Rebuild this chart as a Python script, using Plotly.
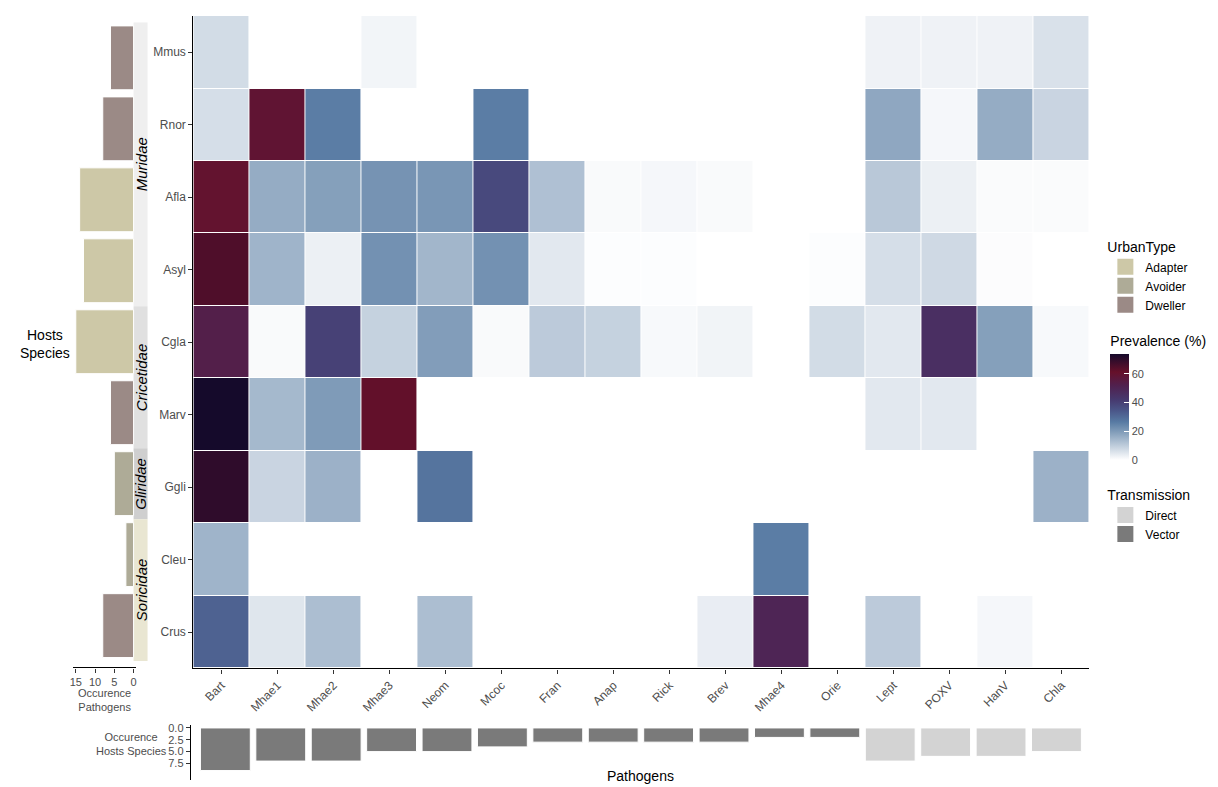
import plotly.graph_objects as go


HOSTS = ["Mmus", "Rnor", "Afla", "Asyl", "Cgla", "Marv", "Ggli", "Cleu", "Crus"]

PATHOGENS = [
    "Bart", "Mhae1", "Mhae2", "Mhae3", "Neom", "Mcoc", "Fran", "Anap",
    "Rick", "Brev", "Mhae4", "Orie", "Lept", "POXV", "HanV", "Chla"
]

# prevalence (%) per host, in PATHOGENS order, None = not found
MMUS = [7, None, None, 2, None, None, None, None, None, None, None, None, 2.5, 2.5, 2.5, 6]
RNOR = [6.5, 59, 26, None, None, 26, None, None, None, None, None, None, 17.5, 1.5, 16.5, 8.5]
AFLA = [60, 16.5, 19, 21.5, 21, 38, 12.5, 1, 1.5, 1, None, None, 11, 3, 0.8, 0.8]
ASYL = [65, 15, 3, 22, 14.5, 22, 4.5, 0.4, 0.4, None, None, 0.4, 6.5, 7.5, 0.5, None]
CGLA = [53, 1, 40, 9, 19.5, 1, 10.5, 9, 1.2, 2.2, None, 7, 4.5, 46, 19, 1.2]
MARV = [74, 14, 20, 62, None, None, None, None, None, None, None, None, 4.5, 4.5, None, None]
GGLI = [70, 8.5, 15.5, None, 28, None, None, None, None, None, None, None, None, None, None, 15.5]
CLEU = [15, None, None, None, None, None, None, None, None, None, 26, None, None, None, None, None]
CRUS = [32, 5, 13, None, 13, None, None, None, None, 3.5, 50, None, 10.5, None, 1.5, None]

# number of pathogens found per host
HOST_OCCURENCE = [6, 8, 14, 13, 15, 6, 5, 2, 8]
URBAN_TYPE = ["Dweller", "Dweller", "Adapter", "Adapter", "Adapter",
              "Dweller", "Avoider", "Avoider", "Dweller"]
FAMILY = ["Muridae", "Muridae", "Muridae", "Muridae", "Cricetidae",
          "Cricetidae", "Gliridae", "Soricidae", "Soricidae"]

# number of host species per pathogen
PATHOGEN_OCCURENCE = [9, 7, 7, 5, 5, 4, 3, 3, 3, 3, 2, 2, 7, 6, 6, 5]
TRANSMISSION = ["Vector"] * 12 + ["Direct"] * 4

URBAN_COLORS = {"Adapter": "#CDC8A7", "Avoider": "#AEAB97", "Dweller": "#9B8A86"}
TRANS_COLORS = {"Direct": "#D3D3D3", "Vector": "#7A7A7A"}
FAMILY_COLORS = {"Muridae": "#EFEFEF", "Cricetidae": "#E0E0E0",
                 "Gliridae": "#CFCFCF", "Soricidae": "#E9E6D2"}

PREV_SCALE = [
    [0.00, "#FFFFFF"],
    [0.27, "#7F9BB8"],
    [0.36, "#577AA3"],
    [0.47, "#4A5588"],
    [0.57, "#46396E"],
    [0.70, "#50214F"],
    [0.83, "#66102A"],
    [1.00, "#150A2B"],
]

# the page body has an 8px margin, so the figure is drawn 8px in
OFF = 8
W, H = 1218 - OFF, 787 - OFF
FONT = "Liberation Sans, Arial, sans-serif"
GREY = "#4D4D4D"


def fx(p):
    return (p - OFF) / W


def fy(p):
    return 1 - (p - OFF) / H


fig = go.Figure()

fig.add_trace(
    go.Heatmap(
        z=[MMUS, RNOR, AFLA, ASYL, CGLA, MARV, GGLI, CLEU, CRUS],
        x=PATHOGENS,
        y=HOSTS,
        zmin=0,
        zmax=74,
        colorscale=PREV_SCALE,
        xgap=1,
        ygap=1,
        hoverongaps=False,
        colorbar=dict(
            title=dict(text="Prevalence (%)", side="top",
                       font=dict(size=14, color="black")),
            x=fx(1111), xanchor="left", xpad=0,
            y=fy(331), yanchor="top", ypad=0,
            len=127 / H, lenmode="fraction",
            thickness=19, outlinewidth=0,
            tickvals=[0, 20, 40, 60],
            ticks="inside", ticklen=5, tickcolor="white",
            tickfont=dict(size=11, color=GREY),
        ),
        xaxis="x",
        yaxis="y",
    )
)

# host occurence bars (left)
fig.add_trace(
    go.Bar(
        x=HOST_OCCURENCE,
        y=HOSTS,
        orientation="h",
        width=0.9,
        marker=dict(color=[URBAN_COLORS[u] for u in URBAN_TYPE],
                    line=dict(color="white", width=1)),
        showlegend=False,
        xaxis="x2",
        yaxis="y2",
    )
)

# pathogen occurence bars (bottom)
fig.add_trace(
    go.Bar(
        x=PATHOGENS,
        y=PATHOGEN_OCCURENCE,
        width=0.9,
        marker=dict(color=[TRANS_COLORS[t] for t in TRANSMISSION],
                    line=dict(color="white", width=1)),
        showlegend=False,
        xaxis="x3",
        yaxis="y3",
    )
)

for name, color in URBAN_COLORS.items():
    fig.add_trace(
        go.Scatter(
            x=[None], y=[None], mode="markers", name=name,
            marker=dict(symbol="square", size=16, color=color),
            legend="legend",
        )
    )

for name, color in TRANS_COLORS.items():
    fig.add_trace(
        go.Scatter(
            x=[None], y=[None], mode="markers", name=name,
            marker=dict(symbol="square", size=16, color=color),
            legend="legend2",
        )
    )

# family strips next to the host bars
shapes = []
annotations = []
start = 0
for i in range(1, len(FAMILY) + 1):
    if i == len(FAMILY) or FAMILY[i] != FAMILY[start]:
        fam = FAMILY[start]
        shapes.append(dict(
            type="rect", xref="paper", yref="y2",
            x0=fx(131), x1=fx(145), y0=start - 0.5, y1=i - 0.5,
            fillcolor=FAMILY_COLORS[fam], line=dict(width=0), layer="below",
        ))
        annotations.append(dict(
            text=f"<i>{fam}</i>", xref="paper", yref="y2",
            x=fx(138.5), y=(start + i - 1) / 2, textangle=-90,
            xanchor="center", yanchor="middle",
            showarrow=False, font=dict(size=15, color="black"),
        ))
        start = i

annotations += [
    dict(text="Hosts<br>Species", xref="paper", yref="paper",
         x=fx(42), y=fy(342), xanchor="center", yanchor="middle",
         showarrow=False, font=dict(size=14, color="black")),
    dict(text="Occurence<br>Pathogens", xref="paper", yref="paper",
         x=fx(102), y=fy(700), xanchor="center", yanchor="middle",
         showarrow=False, font=dict(size=11, color=GREY)),
    dict(text="Occurence<br>Hosts Species", xref="paper", yref="paper",
         x=fx(129), y=fy(744), xanchor="center", yanchor="middle",
         showarrow=False, font=dict(size=11, color=GREY)),
    dict(text="Pathogens", xref="paper", yref="paper",
         x=fx(640), y=fy(776), xanchor="center", yanchor="middle",
         showarrow=False, font=dict(size=14, color="black")),
]

axis_common = dict(
    showgrid=False, zeroline=False, showline=True,
    linecolor="black", linewidth=1.3,
    ticks="outside", ticklen=4, tickcolor="#333333",
    tickfont=dict(size=12, color=GREY),
)

fig.update_layout(
    width=W,
    height=H,
    margin=dict(l=0, r=0, t=0, b=0),
    paper_bgcolor="white",
    plot_bgcolor="white",
    font=dict(family=FONT, color="black"),
    barmode="overlay",
    shapes=shapes,
    annotations=annotations,
    xaxis=dict(
        axis_common,
        domain=[fx(191), fx(1090)],
        anchor="y",
        tickangle=-45,
        categoryorder="array",
        categoryarray=PATHOGENS,
    ),
    yaxis=dict(
        axis_common,
        domain=[fy(668), fy(13)],
        anchor="x",
        autorange="reversed",
        categoryorder="array",
        categoryarray=HOSTS,
    ),
    xaxis2=dict(
        axis_common,
        domain=[fx(70), fx(133)],
        range=[15.78, -0.52],
        anchor="free",
        position=fy(667),
        tickvals=[0, 5, 10, 15],
        tickfont=dict(size=11, color=GREY),
    ),
    yaxis2=dict(
        domain=[fy(660.6), fy(19.4)],
        anchor="x2",
        range=[8.5, -0.5],
        categoryorder="array",
        categoryarray=HOSTS,
        visible=False,
    ),
    xaxis3=dict(
        domain=[fx(187.5), fx(1092.5)],
        anchor="y3",
        range=[-0.64, 15.64],
        categoryorder="array",
        categoryarray=PATHOGENS,
        visible=False,
    ),
    yaxis3=dict(
        axis_common,
        domain=[fy(780), fy(725)],
        anchor="free",
        position=fx(187.5),
        range=[11.0, -0.57],
        tickvals=[0, 2.5, 5, 7.5],
        tickformat=".1f",
        tickfont=dict(size=11, color=GREY),
    ),
    legend=dict(
        title=dict(text="UrbanType", font=dict(size=14, color="black")),
        x=fx(1106), xanchor="left",
        y=fy(232), yanchor="top",
        font=dict(size=12, color="black"),
        bgcolor="rgba(0,0,0,0)",
        itemclick=False,
    ),
    legend2=dict(
        title=dict(text="Transmission", font=dict(size=14, color="black")),
        x=fx(1106), xanchor="left",
        y=fy(481), yanchor="top",
        font=dict(size=12, color="black"),
        bgcolor="rgba(0,0,0,0)",
        itemclick=False,
    ),
)

fig.write_html("out.html")
